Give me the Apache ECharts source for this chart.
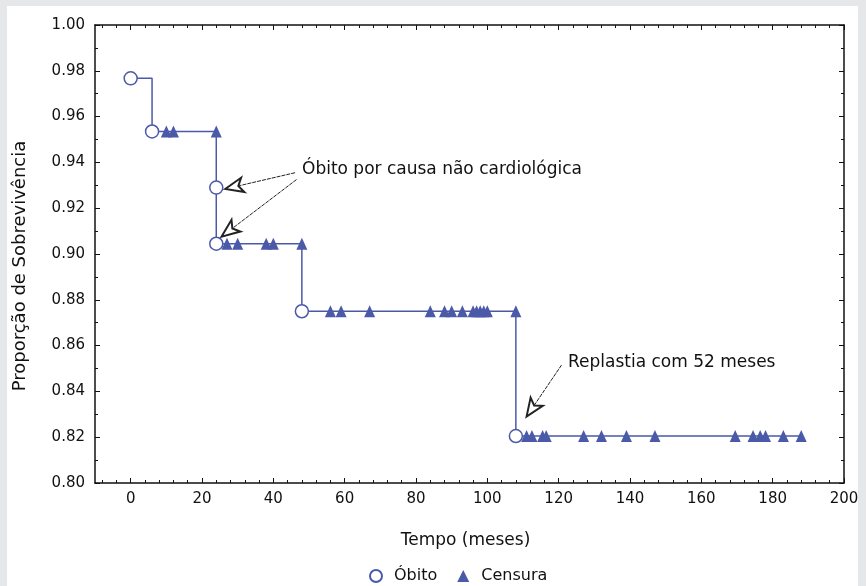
<!DOCTYPE html>
<html>
<head>
<meta charset="utf-8">
<script src="https://cdn.jsdelivr.net/npm/echarts@6/dist/echarts.min.js"></script>
<style>
  html, body { margin: 0; padding: 0; background: #e6e7e9; }
  #main { width: 866px; height: 586px; }
</style>
</head>
<body>
<div id="main"></div>
<script>
// Kaplan-Meier curve (step points)
const curveTimes = [0, 6, 24, 48, 108, 188];
const curveSurv = [0.9767, 0.9535, 0.9045, 0.875, 0.8205, 0.8205];

// deaths (Óbito)
const deathTimes = [0, 6, 24, 24, 48, 108];
const deathSurv = [0.9767, 0.9535, 0.929, 0.9045, 0.875, 0.8205];

// censored (Censura)
const censorTimes = [10, 12, 24,
  27, 30, 38, 40, 48,
  56, 59, 67, 84, 88, 90, 93, 96, 97, 98, 99, 100, 108,
  111, 112.5, 115.5, 116.5, 127, 132, 139, 147, 169.5, 174.5, 176.5, 178, 183, 188];
const censorSurv = [0.9535, 0.9535, 0.9535,
  0.9045, 0.9045, 0.9045, 0.9045, 0.9045,
  0.875, 0.875, 0.875, 0.875, 0.875, 0.875, 0.875, 0.875, 0.875, 0.875, 0.875, 0.875, 0.875,
  0.8205, 0.8205, 0.8205, 0.8205, 0.8205, 0.8205, 0.8205, 0.8205, 0.8205, 0.8205, 0.8205, 0.8205, 0.8205, 0.8205];

const xTickLabels = [0, 20, 40, 60, 80, 100, 120, 140, 160, 180, 200];
const xMinorTicks = [];
for (let v = -8; v <= 200; v += 4) {
  if (v % 20 !== 0) xMinorTicks.push(v);
}

const blue = '#4b5aa8';
const font = 'DejaVu Sans';

let chart = echarts.init(document.getElementById('main'));

function xAxisDef(pos, minor) {
  return {
    type: 'value', position: pos, min: -10, max: 200,
    axisLine: { show: !minor, onZero: false, lineStyle: { color: '#111', width: 1.5 } },
    axisTick: { show: true, inside: true, length: minor ? 3 : 5,
      customValues: minor ? xMinorTicks : xTickLabels,
      lineStyle: { color: '#111', width: 1 } },
    axisLabel: { show: pos === 'bottom' && !minor, customValues: xTickLabels, margin: 9,
      color: '#111', fontFamily: font, fontSize: 15 },
    splitLine: { show: false },
    name: pos === 'bottom' && !minor ? 'Tempo (meses)' : '',
    nameLocation: 'middle', nameGap: 49,
    nameTextStyle: { color: '#111', fontFamily: font, fontSize: 17, padding: [0, 8, 0, 0] }
  };
}

function yAxisDef(pos) {
  return {
    type: 'value', position: pos, min: 0.8, max: 1.0, interval: 0.02,
    axisLine: { show: true, onZero: false, lineStyle: { color: '#111', width: 1.5 } },
    axisTick: { show: true, inside: true, length: 5, lineStyle: { color: '#111', width: 1 } },
    minorTick: { show: true, splitNumber: 2, length: 3, lineStyle: { color: '#111', width: 1 } },
    axisLabel: { show: pos === 'left', margin: 10, color: '#111', fontFamily: font, fontSize: 15,
      formatter: function (v) { return v.toFixed(2); } },
    splitLine: { show: false },
    name: pos === 'left' ? 'Proporção de Sobrevivência' : '',
    nameLocation: 'middle', nameGap: 66,
    nameTextStyle: { color: '#111', fontFamily: font, fontSize: 18, padding: [0, 24, 0, 0] }
  };
}

chart.setOption({
  animation: false,
  backgroundColor: '#e6e7e9',
  grid: { left: 95, right: 22, top: 25, bottom: 103 },
  graphic: [
    { type: 'rect', z: -100, shape: { x: 7, y: 6, width: 851, height: 580 }, style: { fill: '#ffffff' } },
    { type: 'text', left: 302, top: 161, style: { text: 'Óbito por causa não cardiológica',
      font: '17px "DejaVu Sans"', fill: '#111' } },
    { type: 'text', left: 568, top: 354, style: { text: 'Replastia com 52 meses',
      font: '17px "DejaVu Sans"', fill: '#111' } }
  ],
  legend: {
    left: 364, top: 563,
    itemWidth: 12, itemHeight: 12, itemGap: 20,
    textStyle: { color: '#111', fontFamily: font, fontSize: 16, padding: [0, 0, 0, 7] },
    data: ['Óbito', 'Censura']
  },
  xAxis: [xAxisDef('bottom', false), xAxisDef('bottom', true), xAxisDef('top', false), xAxisDef('top', true)],
  yAxis: [yAxisDef('left'), yAxisDef('right')],
  series: [
    {
      name: 'curve', type: 'line', step: 'end', showSymbol: false, silent: true,
      data: curveTimes.map((t, i) => [t, curveSurv[i]]),
      lineStyle: { color: blue, width: 1.5 },
      markLine: {
        silent: true, symbol: ['none', 'emptyArrow'], symbolSize: [11, 18],
        label: { show: false },
        lineStyle: { color: '#222', width: 1, type: [4, 1] },
        data: [
          [{ coord: [46.1, 0.9355] }, { coord: [26.5, 0.9284] }],
          [{ coord: [46.5, 0.9325] }, { coord: [25.5, 0.9076] }],
          [{ coord: [120.8, 0.8515] }, { coord: [111, 0.829] }]
        ]
      },
      z: 2
    },
    {
      name: 'Censura', type: 'scatter', symbol: 'triangle', symbolSize: [11, 12],
      data: censorTimes.map((t, i) => [t, censorSurv[i]]),
      itemStyle: { color: blue, opacity: 1 },
      z: 3
    },
    {
      name: 'Óbito', type: 'scatter', symbol: 'circle', symbolSize: 13,
      data: deathTimes.map((t, i) => [t, deathSurv[i]]),
      itemStyle: { color: '#ffffff', borderColor: blue, borderWidth: 1.5, opacity: 1 },
      z: 4
    }
  ]
});
</script>
</body>
</html>
